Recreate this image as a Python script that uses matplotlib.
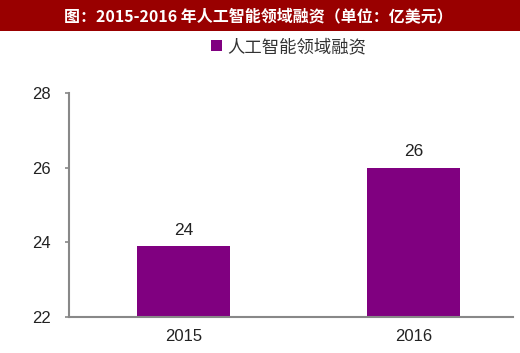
import matplotlib.pyplot as plt
from matplotlib.patches import Rectangle

plt.rcParams['font.family'] = ['Liberation Sans', 'Noto Sans CJK SC', 'DejaVu Sans']

# data
years = ['2015', '2016']
funding = [23.9, 26.0]
labels = ['24', '26']
series_name = '人工智能领域融资'
title = '图：2015-2016 年人工智能领域融资（单位：亿美元）'

bar_color = '#800080'
axis_color = '#888888'

fig = plt.figure(figsize=(5.2, 3.53), dpi=100)
ax = fig.add_axes([0.1327, 0.102, 0.8538, 0.6345])

x = range(len(years))
bars = ax.bar(x, funding, width=0.405, color=bar_color, label=series_name, zorder=2)

for xi, v, lab in zip(x, funding, labels):
    ax.annotate(lab, (xi, v), xytext=(0, 6), textcoords='offset points',
                ha='center', va='bottom', fontsize=12.5, color='#222222')

ax.set_ylim(22, 28)
ax.set_yticks([22, 24, 26, 28])
ax.set_xlim(-0.498, 1.433)
ax.set_xticks(list(x))
ax.set_xticklabels(years)

for side in ['top', 'right']:
    ax.spines[side].set_visible(False)
for side in ['left', 'bottom']:
    ax.spines[side].set_color(axis_color)
    ax.spines[side].set_linewidth(1.5)

ax.tick_params(axis='y', direction='out', length=3, width=1.2, color=axis_color,
               labelsize=12, labelcolor='#222222', pad=10)
ax.tick_params(axis='x', length=0, labelsize=12, labelcolor='#222222', pad=9)

# title bar
fig.patches.append(Rectangle((0, 1 - 31 / 353), 1, 31 / 353, transform=fig.transFigure,
                             facecolor='#990000', edgecolor='none', zorder=0))
fig.text(0.497, 1 - 16 / 353, title, ha='center', va='center', color='white',
         fontsize=11.5, fontweight='bold', family=['Noto Sans CJK SC', 'DejaVu Sans'])

# legend
leg = fig.legend(handles=[bars], labels=[series_name], loc='center',
                 bbox_to_anchor=(0.555, 1 - 47 / 353), frameon=False,
                 handlelength=0.6, handleheight=0.6, handletextpad=0.3,
                 prop={'family': ['Noto Sans CJK SC', 'DejaVu Sans'], 'size': 12.5})
for t in leg.get_texts():
    t.set_color('#333333')

fig.savefig('out.png', dpi=100)
